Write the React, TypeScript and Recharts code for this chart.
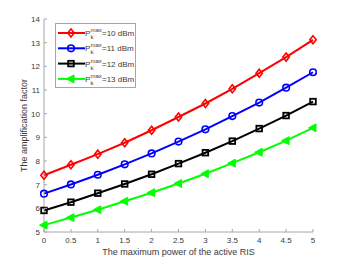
import { Legend, Line, LineChart, XAxis, YAxis } from "recharts";

const powers = [0, 0.5, 1, 1.5, 2, 2.5, 3, 3.5, 4, 4.5, 5];
const amp10dBm = [7.4, 7.84, 8.29, 8.77, 9.3, 9.86, 10.43, 11.05, 11.71, 12.39, 13.12];
const amp11dBm = [6.62, 7.01, 7.42, 7.86, 8.32, 8.82, 9.34, 9.9, 10.47, 11.1, 11.75];
const amp12dBm = [5.91, 6.26, 6.64, 7.03, 7.44, 7.89, 8.35, 8.84, 9.37, 9.92, 10.51];
const amp13dBm = [5.29, 5.61, 5.94, 6.3, 6.66, 7.05, 7.46, 7.91, 8.37, 8.86, 9.4];
const xTicks = [0, 0.5, 1, 1.5, 2, 2.5, 3, 3.5, 4, 4.5, 5];
const yTicks = [5, 6, 7, 8, 9, 10, 11, 12, 13, 14];

const FONT = "'Liberation Sans', Arial, sans-serif";
const AXIS = "#a6a6a6";
const TEXT = "#3a3a3a";

type MarkerKind = "diamond" | "circle" | "square" | "triangle";

const series: { key: string; dbm: string; color: string; marker: MarkerKind; values: number[] }[] = [
  { key: "p10", dbm: "10", color: "#ff0000", marker: "diamond", values: amp10dBm },
  { key: "p11", dbm: "11", color: "#0000ff", marker: "circle", values: amp11dBm },
  { key: "p12", dbm: "12", color: "#000000", marker: "square", values: amp12dBm },
  { key: "p13", dbm: "13", color: "#00ff00", marker: "triangle", values: amp13dBm },
];

const data = powers.map((x, i) => {
  const row: Record<string, number> = { x };
  series.forEach((s) => {
    row[s.key] = s.values[i];
  });
  return row;
});

function Marker({ cx, cy, kind, color }: { cx: number; cy: number; kind: MarkerKind; color: string }) {
  if (cx == null || cy == null) return null;
  if (kind === "diamond") {
    return (
      <path
        d={`M${cx},${cy - 4}L${cx + 3.2},${cy}L${cx},${cy + 4}L${cx - 3.2},${cy}Z`}
        fill="none"
        stroke={color}
        strokeWidth={1.6}
      />
    );
  }
  if (kind === "circle") {
    return <circle cx={cx} cy={cy} r={3.3} fill="none" stroke={color} strokeWidth={1.6} />;
  }
  if (kind === "square") {
    return (
      <rect x={cx - 2.8} y={cy - 2.8} width={5.6} height={5.6} fill="none" stroke={color} strokeWidth={1.8} />
    );
  }
  return (
    <path
      d={`M${cx - 4.5},${cy}L${cx + 3},${cy - 4}L${cx + 3},${cy + 4}Z`}
      fill={color}
      stroke={color}
      strokeWidth={1}
    />
  );
}

function BottomTick({ x, y, payload }: any) {
  return (
    <g>
      <line x1={x} x2={x} y1={y} y2={y - 3} stroke={AXIS} />
      <text x={x} y={y + 11} textAnchor="middle" fontSize={8} fontFamily={FONT} fill={TEXT}>
        {payload.value}
      </text>
    </g>
  );
}

function TopTick({ x, y }: any) {
  return <line x1={x} x2={x} y1={y} y2={y + 3} stroke={AXIS} />;
}

function LeftTick({ x, y, payload }: any) {
  return (
    <g>
      <line x1={x} x2={x + 3} y1={y} y2={y} stroke={AXIS} />
      <text x={x - 4} y={y + 3} textAnchor="end" fontSize={8} fontFamily={FONT} fill={TEXT}>
        {payload.value}
      </text>
    </g>
  );
}

function RightTick({ x, y }: any) {
  return <line x1={x} x2={x - 3} y1={y} y2={y} stroke={AXIS} />;
}

function LegendBox() {
  return (
    <svg width={81} height={65} style={{ display: "block" }}>
      <rect x={0.5} y={0.5} width={80} height={64} fill="#fff" stroke={AXIS} />
      {series.map((s, i) => {
        const cy = 10 + i * 15.3;
        return (
          <g key={s.key}>
            <line x1={3} x2={30} y1={cy} y2={cy} stroke={s.color} strokeWidth={2} />
            <Marker cx={16} cy={cy} kind={s.marker} color={s.color} />
            <g fontFamily={FONT} fill={TEXT}>
              <text x={30} y={cy + 3} fontSize={8}>P</text>
              <text x={35.5} y={cy - 1} fontSize={6}>max</text>
              <text x={35.5} y={cy + 6} fontSize={6}>k</text>
              <text x={47} y={cy + 3} fontSize={8}>{`=${s.dbm} dBm`}</text>
            </g>
          </g>
        );
      })}
    </svg>
  );
}

export default function App() {
  return (
    <div style={{ position: "absolute", left: 0, top: 0, background: "#fff" }}>
      <LineChart width={346} height={260} data={data} margin={{ top: 19, right: 33, bottom: 0, left: 0 }}>
        <XAxis
          dataKey="x"
          type="number"
          domain={[0, 5]}
          ticks={xTicks}
          height={28}
          tickSize={0}
          tickMargin={0}
          tickLine={false}
          axisLine={{ stroke: AXIS }}
          tick={BottomTick}
          interval={0}
          label={{
            value: "The maximum power of the active RIS",
            position: "insideBottom",
            offset: 5,
            style: { fontSize: 9, fontFamily: FONT, fill: TEXT },
          }}
        />
        <XAxis
          xAxisId="top"
          dataKey="x"
          type="number"
          orientation="top"
          domain={[0, 5]}
          ticks={xTicks}
          height={0}
          tickSize={0}
          tickMargin={0}
          tickLine={false}
          axisLine={{ stroke: AXIS }}
          tick={TopTick}
          interval={0}
        />
        <YAxis
          type="number"
          domain={[5, 14]}
          ticks={yTicks}
          width={44}
          tickSize={0}
          tickMargin={0}
          tickLine={false}
          axisLine={{ stroke: AXIS }}
          tick={LeftTick}
          interval={0}
          label={{
            value: "The amplification factor",
            angle: -90,
            position: "insideLeft",
            offset: 24,
            style: { fontSize: 9, fontFamily: FONT, fill: TEXT, textAnchor: "middle" },
          }}
        />
        <YAxis
          yAxisId="right"
          type="number"
          orientation="right"
          domain={[5, 14]}
          ticks={yTicks}
          width={0}
          tickSize={0}
          tickMargin={0}
          tickLine={false}
          axisLine={{ stroke: AXIS }}
          tick={RightTick}
          interval={0}
        />
        <Legend
          layout="vertical"
          align="center"
          verticalAlign="middle"
          wrapperStyle={{ top: 23, left: 55, width: 81, height: 65 }}
          content={() => <LegendBox />}
        />
        {series.map((s) => (
          <Line
            key={s.key}
            dataKey={s.key}
            type="linear"
            stroke={s.color}
            strokeWidth={2}
            isAnimationActive={false}
            activeDot={false}
            dot={(p: any) => <Marker key={`${s.key}-${p.index}`} cx={p.cx} cy={p.cy} kind={s.marker} color={s.color} />}
          />
        ))}
      </LineChart>
    </div>
  );
}
